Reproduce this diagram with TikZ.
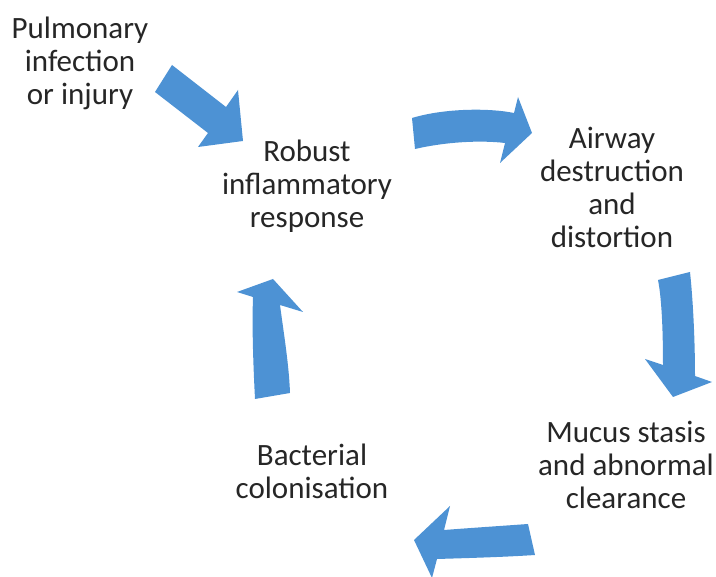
\documentclass[tikz,border=0pt]{standalone}
\usepackage{fontspec}
\setmainfont{Carlito}
\definecolor{arrowblue}{RGB}{77,146,212}
\definecolor{txt}{RGB}{38,38,38}
\begin{document}
\begin{tikzpicture}[x=1pt,y=-1pt,
  lbl/.style={align=center,inner sep=0pt,text=txt,font=\fontsize{31}{33}\selectfont},
  blockarrow/.style={fill=arrowblue,draw=none}]
\useasboundingbox (0,0) rectangle (716,577);

\node[lbl] (pulm) at (80,63) {Pulmonary\\infection\\or injury};
\node[lbl] (robust) at (307,186) {Robust\\inflammatory\\response};
\node[lbl] (airway) at (612,187) {Airway\\destruction\\and\\distortion};
\node[lbl] (mucus) at (626,465) {Mucus stasis\\and abnormal\\clearance};
\node[lbl] (bact) at (312,471) {Bacterial\\colonisation};

% Pulmonary -> Robust (straight diagonal)
\fill[blockarrow] (172,65) -- (226,107) -- (238,90) -- (243,141) -- (198,147) -- (208,133) -- (155,92) -- cycle;
% Robust -> Airway (curved)
\fill[blockarrow] (412,118) .. controls (445,108) and (490,108) .. (514,113) -- (518,97) -- (532,133) -- (500,163) -- (505,143) .. controls (480,140) and (445,142) .. (415,149) -- cycle;
% Airway -> Mucus (curved down)
\fill[blockarrow] (658,280) -- (690,272) .. controls (693,300) and (695,340) .. (695,376) -- (712,382) -- (673,397) -- (645,359) -- (663,365) .. controls (663,335) and (662,300) .. (658,280) -- cycle;
% Mucus -> Bacterial (curved left)
\fill[blockarrow] (528,524) .. controls (500,526) and (470,528) .. (444,530) -- (450,506) -- (414,540) -- (432,578) -- (437,559) .. controls (470,558) and (505,557) .. (535,555) -- cycle;
% Bacterial -> Robust (curved up)
\fill[blockarrow] (255,399) .. controls (253,360) and (252,325) .. (253,297) -- (237,292) -- (273,279) -- (303,312) -- (280,305) .. controls (284,335) and (289,365) .. (290,393) -- cycle;
\end{tikzpicture}
\end{document}
